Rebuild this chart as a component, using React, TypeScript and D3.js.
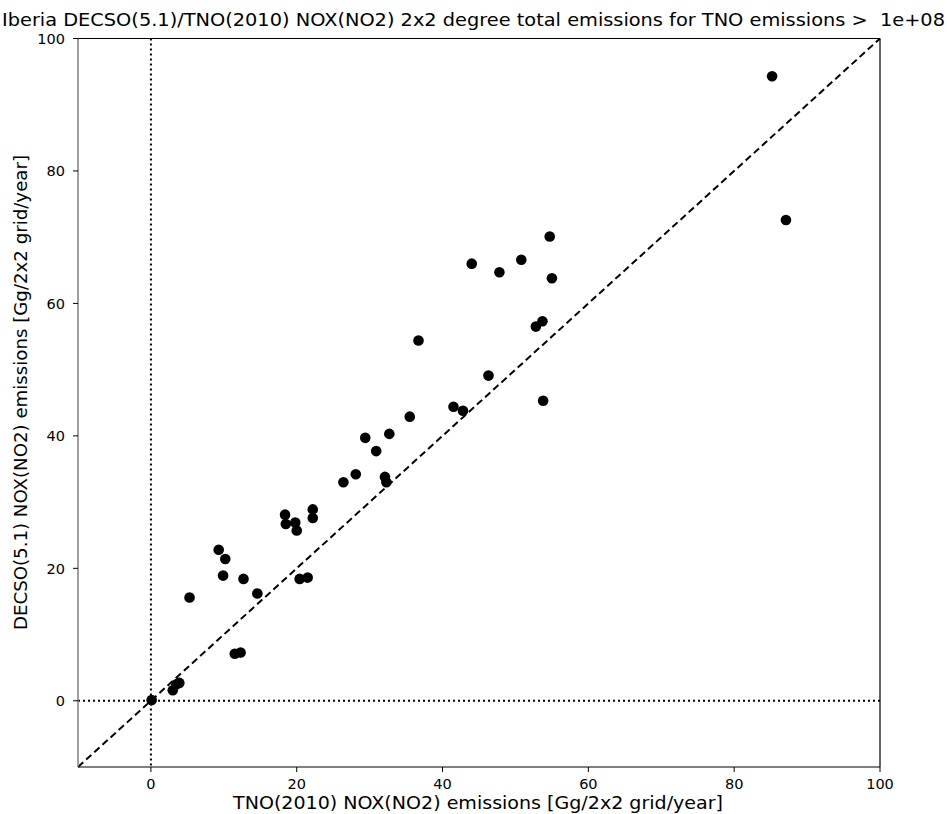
import { useMemo } from "react";
import * as d3 from "d3";

const tnoValues = [
  0.1, 3.0, 3.5, 3.9, 5.3, 9.3, 10.2, 9.9, 12.7, 14.6, 11.5, 12.3, 18.4, 18.5,
  19.8, 20.0, 22.2, 22.2, 20.4, 21.5, 26.4, 28.1, 32.1, 32.3, 29.4, 32.7, 30.9,
  35.5, 36.7, 41.5, 42.8, 44.0, 46.3, 47.8, 50.8, 52.8, 53.7, 53.8, 54.7, 55.0,
  85.2, 87.1,
];
const decsoValues = [
  0.1, 1.6, 2.5, 2.7, 15.6, 22.8, 21.4, 18.9, 18.4, 16.2, 7.1, 7.3, 28.1, 26.7,
  26.9, 25.7, 28.9, 27.6, 18.4, 18.6, 33.0, 34.2, 33.8, 33.0, 39.7, 40.3, 37.7,
  42.9, 54.4, 44.4, 43.8, 66.0, 49.1, 64.7, 66.6, 56.5, 57.3, 45.3, 70.1, 63.8,
  94.3, 72.6,
];
const axisDomain: [number, number] = [-10, 100];
const tickValues = [0, 20, 40, 60, 80, 100];

const title =
  "Iberia DECSO(5.1)/TNO(2010) NOX(NO2) 2x2 degree total emissions for TNO emissions >  1e+08";
const xLabel = "TNO(2010) NOX(NO2) emissions [Gg/2x2 grid/year]";
const yLabel = "DECSO(5.1) NOX(NO2) emissions [Gg/2x2 grid/year]";

export default function App() {
  const width = 947;
  const height = 814;
  const margin = { top: 38.5, right: 67, bottom: 47, left: 78 };
  const font = "'DejaVu Sans', sans-serif";

  const x = useMemo(
    () => d3.scaleLinear().domain(axisDomain).range([margin.left, width - margin.right]),
    []
  );
  const y = useMemo(
    () => d3.scaleLinear().domain(axisDomain).range([height - margin.bottom, margin.top]),
    []
  );

  const points = tnoValues.map((v, i) => ({ x: v, y: decsoValues[i] }));
  const diag = d3.line<number>().x(d => x(d)).y(d => y(d))(axisDomain) ?? "";

  const [x0, x1] = x.range();
  const [y0, y1] = y.range();

  return (
    <svg
      width={width}
      height={height}
      style={{ position: "absolute", left: 0, top: 0, background: "#fff" }}
      fontFamily={font}
    >
      {/* Title */}
      <text
        x={2}
        y={26}
        fontSize={17}
        fill="#000"
        textLength={943}
        lengthAdjust="spacingAndGlyphs"
        style={{ whiteSpace: "pre" }}
      >
        {title}
      </text>

      {/* zero reference lines */}
      <line x1={x(0)} x2={x(0)} y1={y1} y2={y0} stroke="#000" strokeWidth={2} strokeDasharray="2,3" />
      <line x1={x0} x2={x1} y1={y(0)} y2={y(0)} stroke="#000" strokeWidth={2} strokeDasharray="2,3" />

      {/* 1:1 line */}
      <path d={diag} fill="none" stroke="#000" strokeWidth={2} strokeDasharray="7,4" />

      {/* Points */}
      {points.map((p, i) => (
        <circle key={i} cx={x(p.x)} cy={y(p.y)} r={5.3} fill="#000" />
      ))}

      {/* Frame */}
      <line x1={x0} x2={x0} y1={y1} y2={y0} stroke="#888" strokeWidth={1.6} />
      <line x1={x1} x2={x1} y1={y1} y2={y0} stroke="#000" strokeWidth={1.2} />
      <line x1={x0} x2={x1} y1={y1} y2={y1} stroke="#000" strokeWidth={1.2} />
      <line x1={x0} x2={x1} y1={y0} y2={y0} stroke="#000" strokeWidth={1.2} />

      {/* X ticks */}
      {tickValues.map(t => (
        <g key={"x" + t} transform={`translate(${x(t)},${y0})`}>
          <line y2={5} stroke="#000" strokeWidth={1} />
          <text y={22} textAnchor="middle" fontSize={14.5} fill="#000">
            {t}
          </text>
        </g>
      ))}

      {/* Y ticks */}
      {tickValues.map(t => (
        <g key={"y" + t} transform={`translate(${x0},${y(t)})`}>
          <line x2={-5} stroke="#000" strokeWidth={1} />
          <text x={-13} dy="0.36em" textAnchor="end" fontSize={14.5} fill="#000">
            {t}
          </text>
        </g>
      ))}

      {/* Axis labels */}
      <text
        x={233}
        y={809}
        fontSize={17}
        fill="#000"
        textLength={490}
        lengthAdjust="spacingAndGlyphs"
      >
        {xLabel}
      </text>
      <text
        transform={`translate(27,630) rotate(-90)`}
        fontSize={18}
        fill="#000"
        textLength={475}
        lengthAdjust="spacingAndGlyphs"
      >
        {yLabel}
      </text>
    </svg>
  );
}
